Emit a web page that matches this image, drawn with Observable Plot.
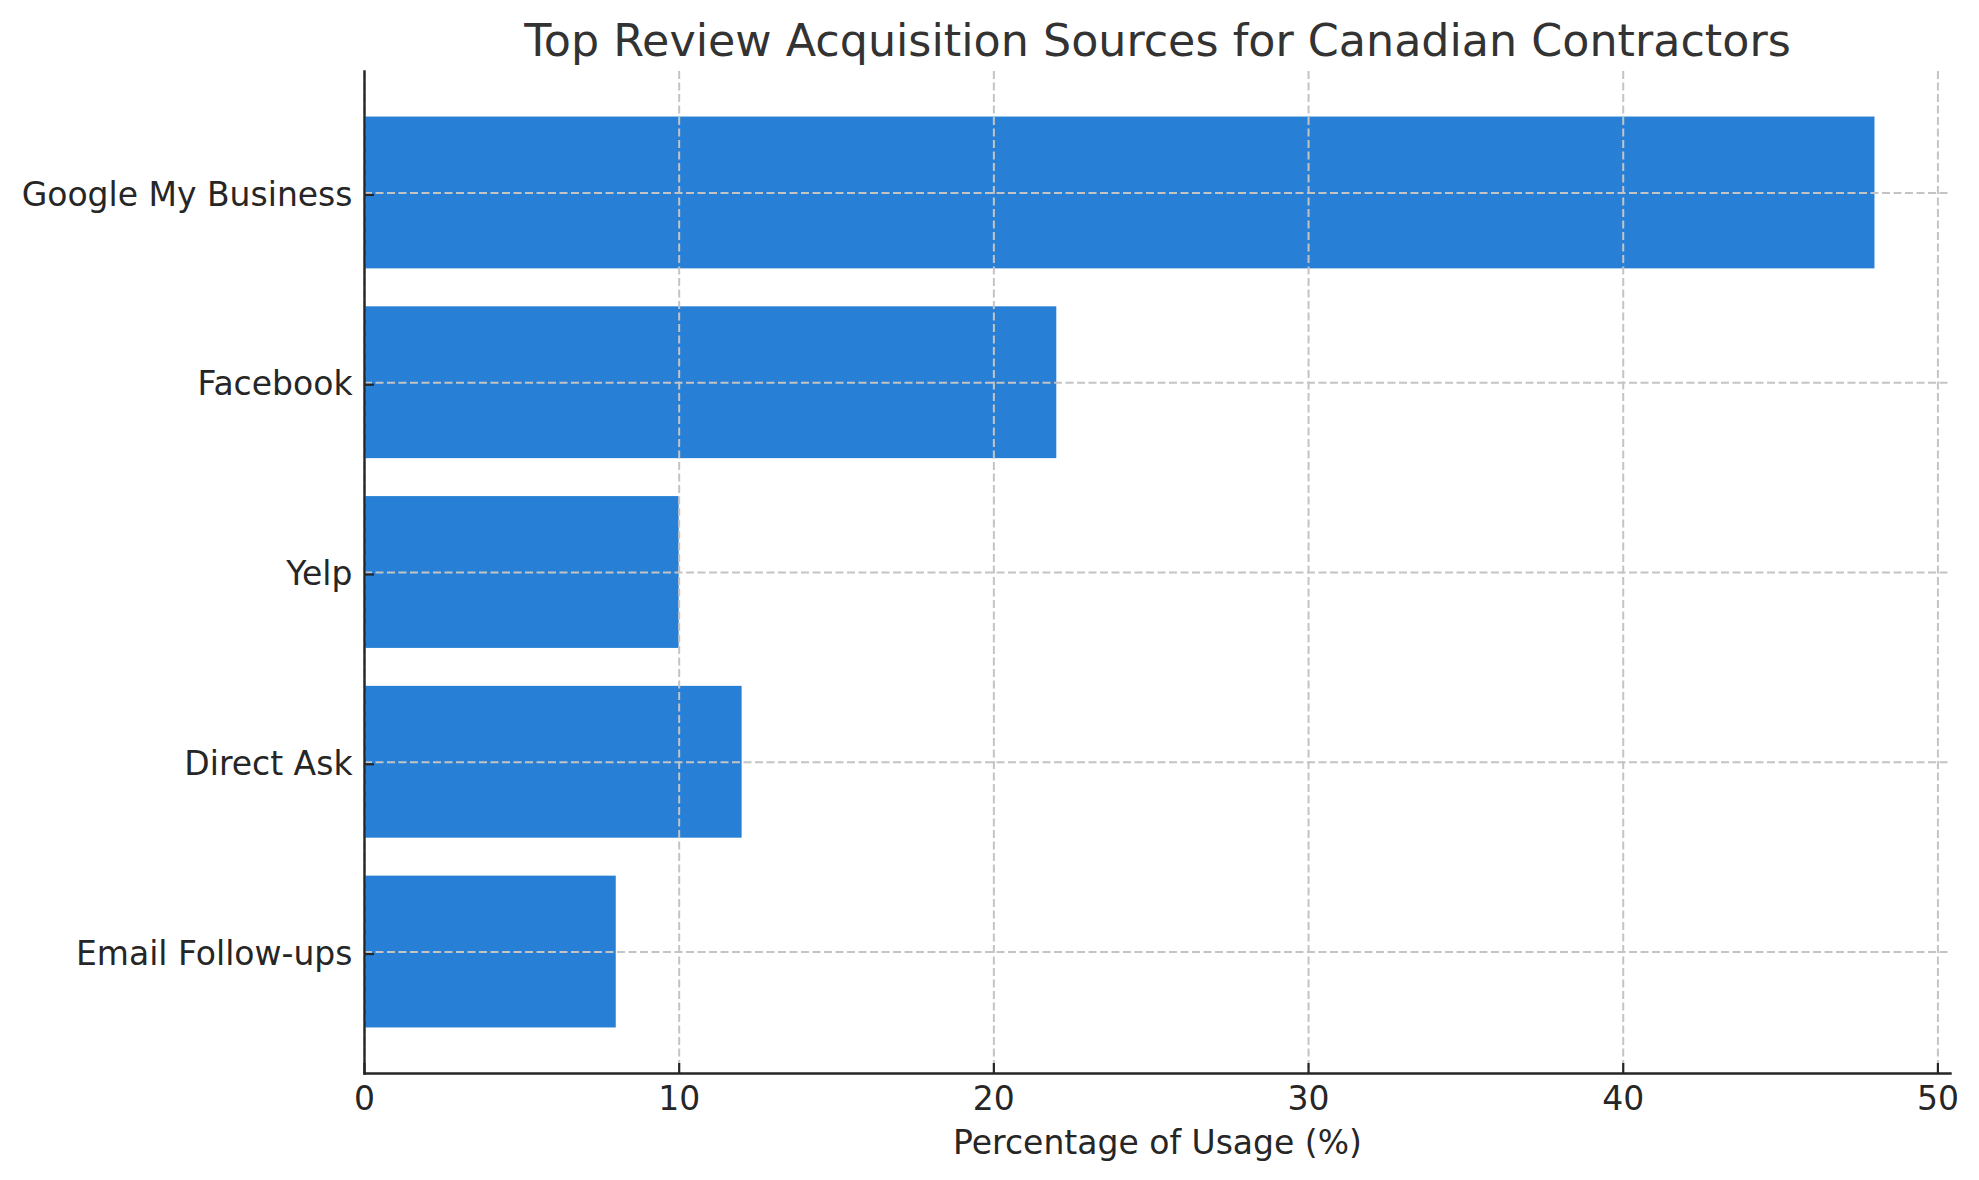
<!DOCTYPE html>
<html>
<head>
<meta charset="utf-8">
<script src="https://cdn.jsdelivr.net/npm/d3@7"></script>
<script src="https://cdn.jsdelivr.net/npm/@observablehq/plot@0.6"></script>
<style>
  html, body { margin: 0; padding: 0; background: #fff; }
  #chart svg { display: block; }
</style>
</head>
<body>
<div id="chart"></div>
<script>
const titleText = "Top Review Acquisition Sources for Canadian Contractors";
const xLabel = "Percentage of Usage (%)";
const sources = ["Google My Business", "Facebook", "Yelp", "Direct Ask", "Email Follow-ups"];
const usage = [48, 22, 10, 12, 8];
const xTicks = [0, 10, 20, 30, 40, 50];

const data = sources.map((s, i) => ({source: s, value: usage[i]}));

const font = "'DejaVu Sans', sans-serif";
const ink = "#262626";
const gridStyle = {stroke: "#c4c4c4", strokeOpacity: 1, strokeWidth: 2, strokeDasharray: "8,3.5"};

const chart = Plot.plot({
  width: 1979,
  height: 1180,
  marginLeft: 364,
  marginRight: 29,
  marginTop: 71,
  marginBottom: 107,
  style: {fontFamily: font, background: "#fff", color: ink},
  x: {domain: [0, 50.4], ticks: xTicks},
  y: {domain: sources, paddingInner: 0.2, paddingOuter: 0.24, round: false},
  marks: [
    Plot.barX(data, {x: "value", y: "source", fill: "#277fd6"}),
    Plot.gridX(xTicks, gridStyle),
    Plot.gridY(sources, gridStyle),
    Plot.axisX({ticks: xTicks, tickSize: -10, tickPadding: 22.6, fontSize: 33, strokeWidth: 2.2, stroke: ink, fill: ink,
      label: xLabel, labelAnchor: "center", labelArrow: "none", labelOffset: 80}),
    Plot.axisY({tickSize: -10, tickPadding: 22, fontSize: 33, strokeWidth: 2.2, stroke: ink, fill: ink, label: null, dy: 2}),
    Plot.frame({anchor: "left", stroke: ink, strokeWidth: 2.4}),
    Plot.frame({anchor: "bottom", stroke: ink, strokeWidth: 2.4}),
    Plot.text([titleText], {frameAnchor: "top", dy: -16, lineAnchor: "bottom", fontSize: 44.4, fill: "#333333", fontFamily: font})
  ]
});
document.getElementById("chart").appendChild(chart);
</script>
</body>
</html>
